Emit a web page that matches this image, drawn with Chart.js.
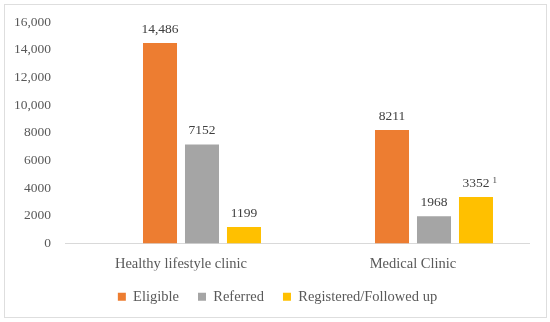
<!DOCTYPE html>
<html>
<head>
<meta charset="utf-8">
<script src="https://cdn.jsdelivr.net/npm/chart.js@4/dist/chart.umd.min.js"></script>
<style>
  html, body { margin: 0; padding: 0; background: #fff; }
  #wrap { position: relative; width: 550px; height: 322px; }
  #frame { position: absolute; left: 4px; top: 4px; width: 541px; height: 312px; border: 1px solid #dedede; }
  #chart { position: absolute; left: 0; top: 0; }
</style>
</head>
<body>
<div id="wrap">
  <div id="frame"></div>
  <canvas id="chart" width="550" height="322"></canvas>
</div>
<script>
const categories = ['Healthy lifestyle clinic', 'Medical Clinic'];
const eligible = [14486, 8211];
const referred = [7152, 1968];
const registered = [1199, 3352];
const registeredNotes = ['', '1'];
const yTicks = [0, 2000, 4000, 6000, 8000, 10000, 12000, 14000, 16000];

const FONT = "'Liberation Serif', 'Times New Roman', serif";
const TEXT = '#595959';

Chart.defaults.font.family = FONT;
Chart.defaults.color = TEXT;

function fmt(v) {
  return v >= 10000 ? v.toLocaleString('en-US') : String(v);
}

// draws the number above each bar (plus the footnote mark where there is one)
const barLabels = {
  id: 'barLabels',
  afterDatasetsDraw(chart) {
    const ctx = chart.ctx;
    ctx.save();
    ctx.fillStyle = '#404040';
    ctx.textBaseline = 'bottom';
    chart.data.datasets.forEach((ds, i) => {
      if (!ds.label) return;
      chart.getDatasetMeta(i).data.forEach((bar, j) => {
        const txt = fmt(ds.data[j]);
        ctx.font = '13.5px ' + FONT;
        ctx.textAlign = 'center';
        ctx.fillText(txt, bar.x, bar.y - 7);
        const note = ds.notes ? ds.notes[j] : '';
        if (note) {
          const w = ctx.measureText(txt).width;
          ctx.font = '9px ' + FONT;
          ctx.textAlign = 'left';
          ctx.fillText(note, bar.x + w / 2 + 3, bar.y - 12);
        }
      });
    });
    ctx.restore();
  }
};

// centre the legend on the whole frame, not just the area left of the right padding
const legendShift = {
  id: 'legendShift',
  afterLayout(chart) {
    if (chart.legend) chart.legend.left += 26;
  }
};

new Chart(document.getElementById('chart'), {
  type: 'bar',
  data: {
    labels: categories,
    datasets: [
      { label: '', data: [null, null], backgroundColor: 'rgba(0,0,0,0)' },
      { label: 'Eligible', data: eligible, backgroundColor: '#ED7D31' },
      { label: 'Referred', data: referred, backgroundColor: '#A5A5A5' },
      { label: 'Registered/Followed up', data: registered, notes: registeredNotes, backgroundColor: '#FFC000' }
    ]
  },
  options: {
    responsive: false,
    animation: false,
    devicePixelRatio: 1,
    categoryPercentage: 0.724,
    barPercentage: 0.81,
    layout: { padding: { top: 21, right: 21, bottom: 8, left: 0 } },
    plugins: {
      tooltip: { enabled: false },
      legend: {
        position: 'bottom',
        labels: {
          filter: item => item.text !== '',
          boxWidth: 8,
          boxHeight: 8,
          padding: 19,
          color: TEXT,
          font: { family: FONT, size: 14.5 }
        }
      }
    },
    scales: {
      x: {
        afterFit: scale => { scale.height = 27; },
        grid: { display: false, drawTicks: false },
        border: { display: true, color: '#d9d9d9', width: 1 },
        ticks: { color: TEXT, padding: 12, font: { family: FONT, size: 14.5 } }
      },
      y: {
        min: 0,
        max: 16000,
        afterFit: scale => { scale.width = 65; },
        afterBuildTicks: scale => { scale.ticks = yTicks.map(v => ({ value: v })); },
        grid: { display: false, drawTicks: false },
        border: { display: false },
        ticks: { color: TEXT, padding: 14, callback: v => fmt(v), font: { family: FONT, size: 13.5 } }
      }
    }
  },
  plugins: [barLabels, legendShift]
});
</script>
</body>
</html>
